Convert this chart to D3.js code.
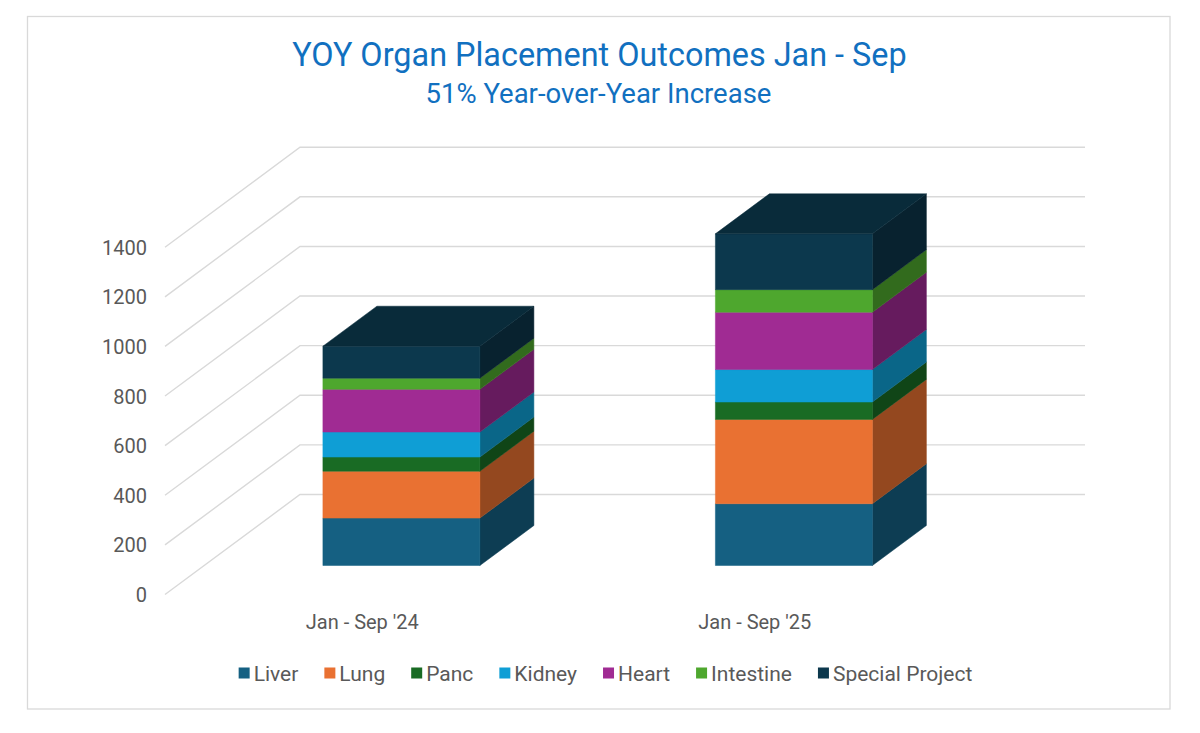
<!DOCTYPE html>
<html>
<head>
<meta charset="utf-8">
<script src="https://cdn.jsdelivr.net/npm/d3@7"></script>
<style>
  html, body { margin: 0; padding: 0; background: #fff; }
  svg { display: block; }
  text { font-family: Roboto, "Open Sans", sans-serif; }
</style>
</head>
<body>
<svg id="chart" width="1200" height="733"></svg>
<script>
// ---- data ----
const categories = ["Jan - Sep '24", "Jan - Sep '25"];
const seriesNames = ["Liver", "Lung", "Panc", "Kidney", "Heart", "Intestine", "Special Project"];
const liver = [191, 249];
const lung = [189, 340];
const panc = [57, 70];
const kidney = [101, 131];
const heart = [172, 231];
const intestine = [45, 91];
const specialProject = [129, 225];
const yTicks = [0, 200, 400, 600, 800, 1000, 1200, 1400];
const titleText = "YOY Organ Placement Outcomes Jan - Sep";
const subtitleText = "51% Year-over-Year Increase";

const seriesValues = [liver, lung, panc, kidney, heart, intestine, specialProject];
const frontColors = ["#156082", "#E97132", "#196B24", "#0F9ED5", "#A02B93", "#4EA72E", "#0C384D"];
const sideColors  = ["#0D3D53", "#94481F", "#104517", "#0A6688", "#661B5E", "#326B1D", "#08222F"];
const topColor = "#092B3A";

// ---- layout ----
const svg = d3.select("#chart");
const floorLeft = 165, floorRight = 950;
const depthDX = 135, depthDY = -100;
const zFront = 0.29, zBack = 0.69;

const y = d3.scaleLinear().domain([0, 1400]).range([594.5, 247.2]);
const x = d3.scaleBand().domain(categories).range([166, 951]).paddingInner(0.6).paddingOuter(0.3);

function P(px, v, z) { return [px + z * depthDX, y(v) + z * depthDY]; }
const line = d3.line();

// border
svg.append("rect").attr("x", 27.5).attr("y", 16.5).attr("width", 1142.5).attr("height", 692.5)
  .attr("fill", "#fff").attr("stroke", "#D9D9D9").attr("stroke-width", 1.3);

// title
svg.append("text").attr("x", 599.5).attr("y", 66).attr("text-anchor", "middle")
  .attr("font-size", 32.4).attr("fill", "#1170C0").text(titleText);
svg.append("text").attr("x", 598.5).attr("y", 103.3).attr("text-anchor", "middle")
  .attr("font-size", 27.5).attr("fill", "#1170C0").text(subtitleText);

// gridlines: back wall + left wall diagonals
const grid = svg.append("g").attr("stroke", "#D9D9D9").attr("stroke-width", 1.4).attr("fill", "none");
yTicks.forEach(t => {
  grid.append("path").attr("d", line([P(floorLeft, t, 0), P(floorLeft, t, 1), P(floorRight, t, 1)]));
});

// y tick labels
svg.append("g").selectAll("text").data(yTicks).join("text")
  .attr("x", 147).attr("y", d => y(d) + 7.5)
  .attr("text-anchor", "end").attr("font-size", 20).attr("fill", "#595959")
  .text(d => d);

// bars
const stacked = categories.map((c, i) => {
  let acc = 0;
  return seriesValues.map((vals, s) => {
    const v0 = acc; acc += vals[i];
    return { cat: c, s, v0, v1: acc };
  });
});

const bars = svg.append("g");
stacked.forEach(segs => {
  const g = bars.append("g");
  const x0 = x(segs[0].cat), x1 = x0 + x.bandwidth();
  segs.forEach(d => {
    g.append("path").attr("fill", sideColors[d.s]).attr("stroke", sideColors[d.s]).attr("stroke-width", 0.5)
      .attr("d", line([P(x1, d.v0, zFront), P(x1, d.v0, zBack), P(x1, d.v1, zBack), P(x1, d.v1, zFront)]) + "Z");
    g.append("path").attr("fill", frontColors[d.s]).attr("stroke", frontColors[d.s]).attr("stroke-width", 0.5)
      .attr("d", line([P(x0, d.v0, zFront), P(x1, d.v0, zFront), P(x1, d.v1, zFront), P(x0, d.v1, zFront)]) + "Z");
  });
  const top = segs[segs.length - 1].v1;
  g.append("path").attr("fill", topColor).attr("stroke", topColor).attr("stroke-width", 0.5)
    .attr("d", line([P(x0, top, zFront), P(x1, top, zFront), P(x1, top, zBack), P(x0, top, zBack)]) + "Z");
});

// category labels
svg.append("g").selectAll("text").data(categories).join("text")
  .attr("x", d => x(d) + x.bandwidth() / 2).attr("y", 629)
  .attr("text-anchor", "middle").attr("font-size", 20).attr("fill", "#595959")
  .text(d => d);

// legend
const legend = svg.append("g");
const legendGap = 26;
let cx = 0;
seriesNames.forEach((name, i) => {
  const it = legend.append("g");
  it.append("rect").attr("x", 0).attr("y", -5.5).attr("width", 11).attr("height", 11).attr("fill", frontColors[i]);
  const t = it.append("text").attr("x", 15).attr("y", 7.5).attr("font-size", 21).attr("fill", "#595959").text(name);
  const w = 15 + t.node().getComputedTextLength();
  it.attr("transform", `translate(${cx},673)`);
  cx += w + legendGap;
});
const total = cx - legendGap;
legend.attr("transform", `translate(${605.5 - total / 2},0)`);
</script>
</body>
</html>
